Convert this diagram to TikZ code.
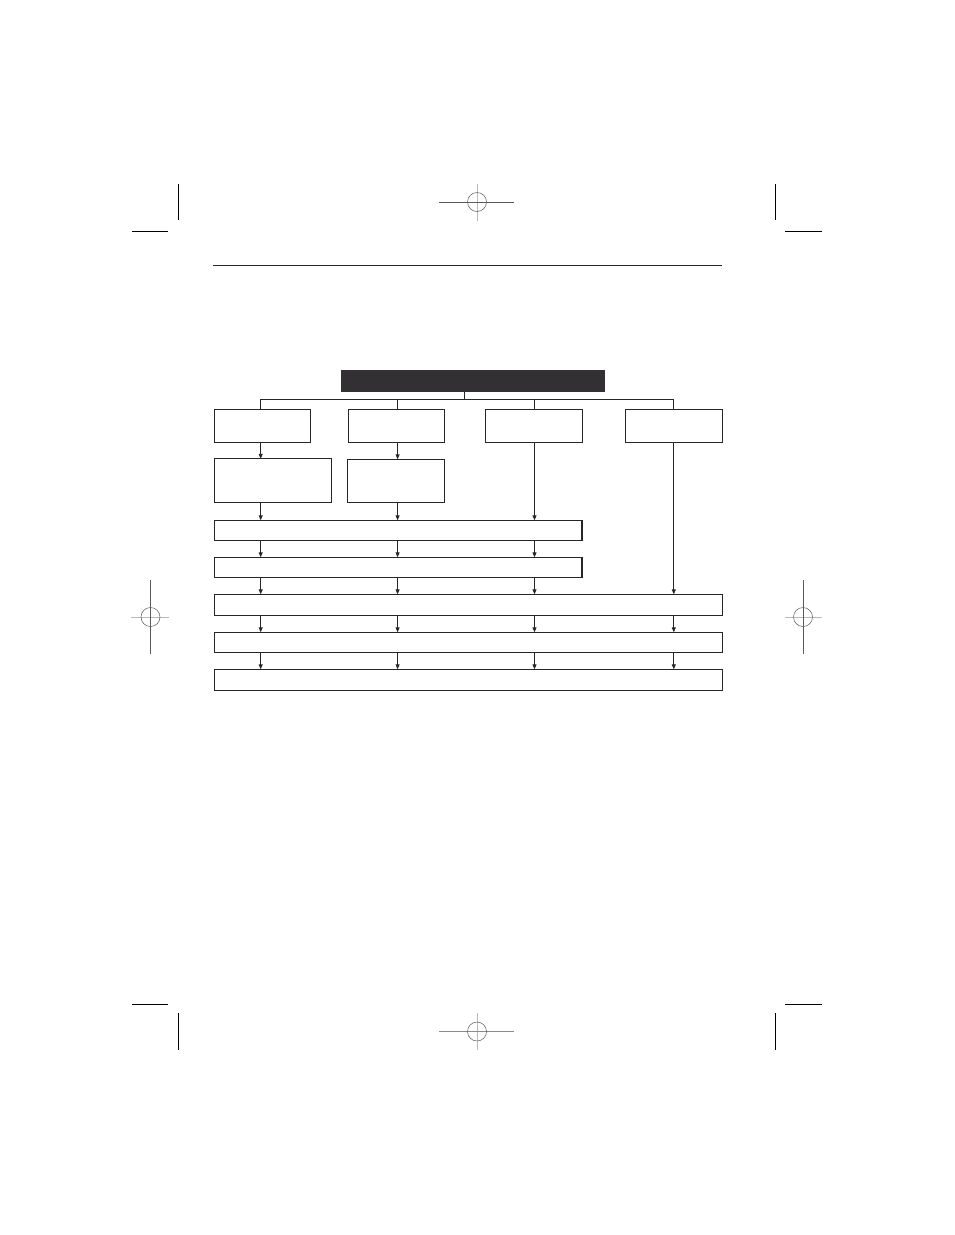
\documentclass[tikz,border=0pt]{standalone}
\usetikzlibrary{arrows.meta}
\definecolor{darkfill}{RGB}{50,48,50}
\definecolor{regdark}{RGB}{90,90,90}
\definecolor{reglight}{RGB}{185,185,185}
\begin{document}
\begin{tikzpicture}[x=1pt,y=-1pt,
  box/.style={draw=black!85,line width=1.1pt,fill=white,anchor=north west,inner sep=0pt,outer sep=0pt},
  darkbox/.style={fill=darkfill,draw=none,anchor=north west,inner sep=0pt,outer sep=0pt},
  conn/.style={draw=black!85,line width=0.9pt},
  arr/.style={conn,-{Triangle[length=5pt,width=4pt]}},
  cropline/.style={black,line width=0.9pt},
  regcircle/.style={regdark,line width=0.5pt},
  regmain/.style={regdark,line width=0.8pt},
  reglite/.style={reglight,line width=0.8pt}]
\useasboundingbox[fill=white] (0,0) rectangle (954,1235);

% crop marks
\draw[cropline] (178,184) -- (178,220);
\draw[cropline] (132,231) -- (168,231);
\draw[cropline] (775,184) -- (775,220);
\draw[cropline] (785,231) -- (822,231);
\draw[cropline] (178,1013) -- (178,1050);
\draw[cropline] (132,1004) -- (168,1004);
\draw[cropline] (775,1013) -- (775,1050);
\draw[cropline] (785,1004) -- (822,1004);

% registration marks
\draw[reglite] (477,184) -- (477,221);
\draw[regmain] (439,202) -- (514,202);
\draw[regcircle] (477,202) circle[radius=9.5];
\draw[reglite] (477,1013) -- (477,1050);
\draw[regmain,regdark!70] (439,1031.5) -- (514,1031.5);
\draw[regcircle] (477,1031.5) circle[radius=9.5];
\draw[reglite] (131,617) -- (169,617);
\draw[regmain] (150.5,580) -- (150.5,654);
\draw[regcircle] (150.5,617) circle[radius=9.5];
\draw[reglite] (785,617) -- (822,617);
\draw[regmain] (803,580) -- (803,654);
\draw[regcircle] (803,617) circle[radius=9.5];

% header rule
\draw[line width=0.9pt,black!85] (213,265.5) -- (722,265.5);

% boxes
\node[darkbox,minimum width=263.5pt,minimum height=22pt] (top) at (341,370) {};
\node[box,minimum width=96pt,minimum height=33pt] (b1) at (214.5,409.3) {};
\node[box,minimum width=96pt,minimum height=33pt] (b2) at (348.6,409.3) {};
\node[box,minimum width=97pt,minimum height=33pt] (b3) at (485.9,409.3) {};
\node[box,minimum width=96.5pt,minimum height=33pt] (b4) at (625.9,409.3) {};
\node[box,minimum width=117pt,minimum height=44pt] (b5) at (214.5,458.8) {};
\node[box,minimum width=97pt,minimum height=43.5pt] (b6) at (347.6,459.3) {};
\node[box,minimum width=367.5pt,minimum height=20pt] (b7) at (214.5,520.3) {};
\node[box,minimum width=367.5pt,minimum height=20pt] (b8) at (214.5,557.3) {};
\node[box,minimum width=508pt,minimum height=21pt] (b9) at (214.5,594.3) {};
\node[box,minimum width=508pt,minimum height=20pt] (b10) at (214.5,632.3) {};
\node[box,minimum width=508pt,minimum height=21pt] (b11) at (214.5,669.3) {};

% column coordinates on the distribution bar
\coordinate (c1) at (260.7,399.3);
\coordinate (c2) at (397.6,399.3);
\coordinate (c3) at (534.5,399.3);
\coordinate (c4) at (673.8,399.3);
\coordinate (stem) at (464.8,399.3);

% top distribution
\draw[conn] (top.south -| stem) -- (stem);
\draw[conn] (c1) -- (c4);
\draw[conn] (c1) -- (b1.north -| c1);
\draw[conn] (c2) -- (b2.north -| c2);
\draw[conn] (c3) -- (b3.north -| c3);
\draw[conn] (c4) -- (b4.north -| c4);

% arrows
\draw[arr] (b1.south -| c1) -- (b5.north -| c1);
\draw[arr] (b2.south -| c2) -- (b6.north -| c2);
\draw[arr] (b5.south -| c1) -- (b7.north -| c1);
\draw[arr] (b6.south -| c2) -- (b7.north -| c2);
\draw[arr] (b3.south -| c3) -- (b7.north -| c3);
\draw[arr] (b4.south -| c4) -- (b9.north -| c4);
\foreach \c in {c1,c2,c3}{
  \draw[arr] (b7.south -| \c) -- (b8.north -| \c);
  \draw[arr] (b8.south -| \c) -- (b9.north -| \c);
}
\foreach \c in {c1,c2,c3,c4}{
  \draw[arr] (b9.south -| \c) -- (b10.north -| \c);
  \draw[arr] (b10.south -| \c) -- (b11.north -| \c);
}
\end{tikzpicture}
\end{document}
